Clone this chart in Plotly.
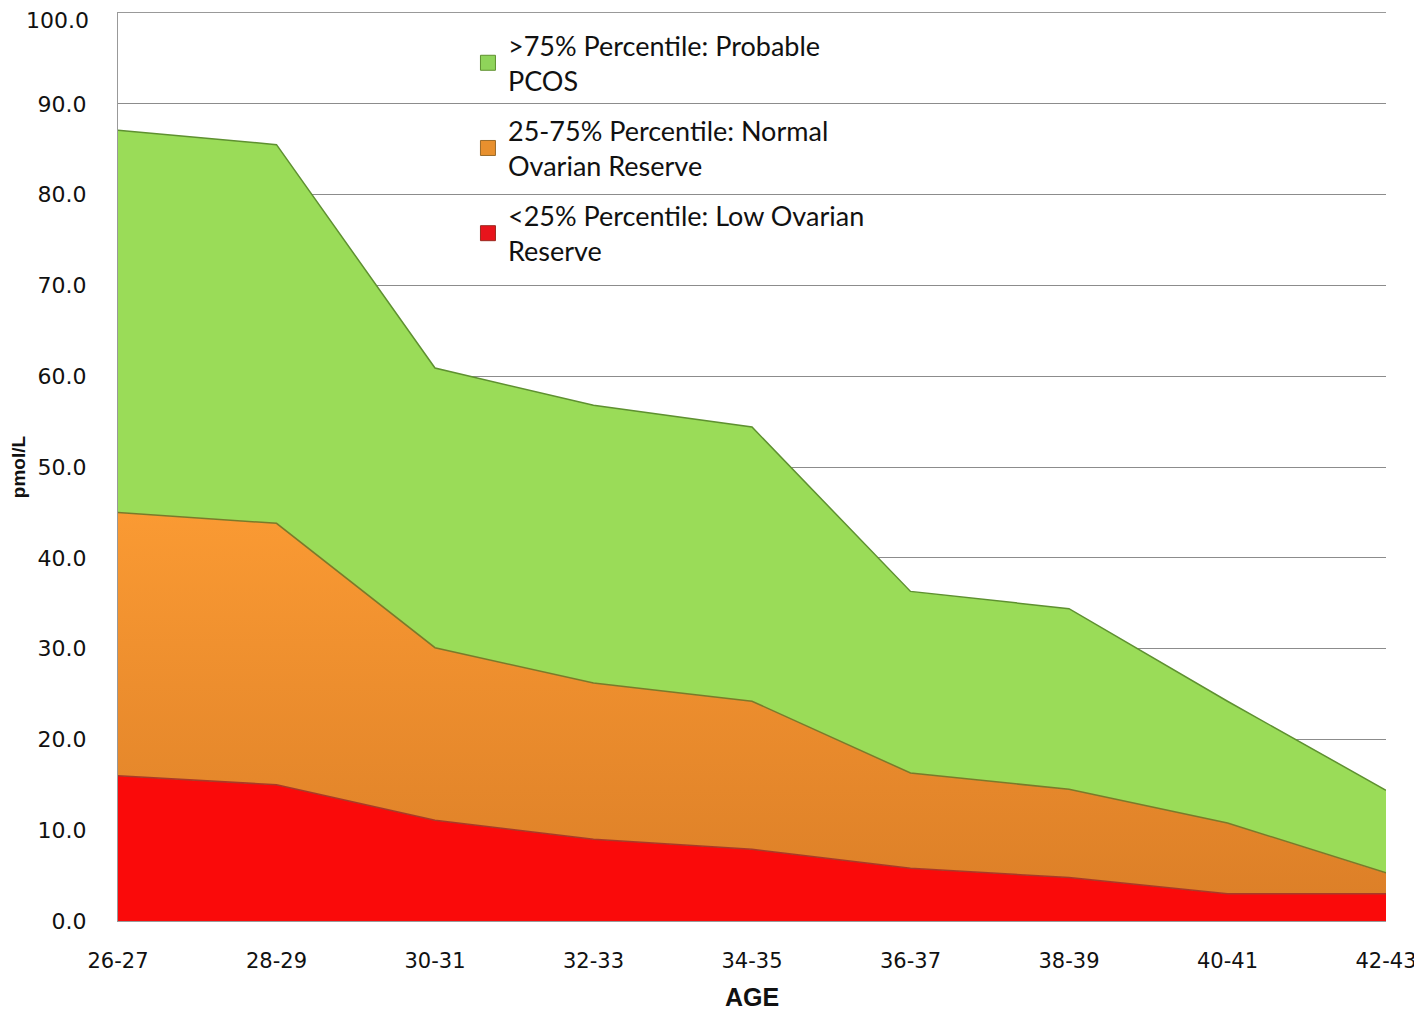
import plotly.graph_objects as go

ages = ["26-27", "28-29", "30-31", "32-33", "34-35", "36-37", "38-39", "40-41", "42-43"]
p25 = [16.0, 15.0, 11.1, 9.0, 7.9, 5.8, 4.8, 3.0, 3.0]
p75 = [45.0, 43.8, 30.1, 26.2, 24.2, 16.3, 14.5, 10.8, 5.3]
p_high = [87.1, 85.5, 60.9, 56.8, 54.4, 36.3, 34.4, 24.2, 14.4]
y_ticks = [0, 10, 20, 30, 40, 50, 60, 70, 80, 90, 100]

names = [
    "<25% Percentile: Low Ovarian<br>Reserve",
    "25-75% Percentile: Normal<br>Ovarian Reserve",
    ">75% Percentile: Probable<br>PCOS",
]
legend_colors = ["#E8141C", "#E8902E", "#8FD45A"]
legend_edges = ["#9A2A20", "#9A6A2A", "#5E9030"]

fig = go.Figure()
fig.add_trace(go.Scatter(
    x=ages, y=p25, name=names[0], mode="lines", fill="tozeroy",
    fillcolor="#FA0A0A", line=dict(color="#A83A28", width=1.5),
    showlegend=False,
))
fig.add_trace(go.Scatter(
    x=ages, y=p75, name=names[1], mode="lines", fill="tonexty",
    fillgradient=dict(type="vertical", colorscale=[[0, "#DB7E27"], [1, "#FA9A33"]], start=0, stop=45),
    line=dict(color="#7A7A2A", width=1.5),
    showlegend=False,
))
fig.add_trace(go.Scatter(
    x=ages, y=p_high, name=names[2], mode="lines", fill="tonexty",
    fillcolor="#9ADC58", line=dict(color="#5E9030", width=1.5),
    showlegend=False,
))

# legend entries with square swatches (no drawn data)
for i, rank in zip(range(3), [3, 2, 1]):
    fig.add_trace(go.Scatter(
        x=[None], y=[None], name=names[i], mode="markers",
        marker=dict(symbol="square", size=15, color=legend_colors[i],
                    line=dict(color=legend_edges[i], width=1)),
        legendgroup=str(i), legendrank=rank, showlegend=True,
    ))

tick_font = dict(family="DejaVu Sans", size=22, color="#111111")
xtick_font = dict(family="DejaVu Sans", size=21, color="#111111")

fig.update_layout(
    width=1422, height=1010,
    margin=dict(l=110, r=44, t=5, b=97),
    paper_bgcolor="white", plot_bgcolor="white",
    font=dict(family="DejaVu Sans", color="#111111"),
    showlegend=True,
    legend=dict(
        x=0.276, y=0.991, xanchor="left", yanchor="top",
        traceorder="grouped", tracegroupgap=12,
        bgcolor="rgba(0,0,0,0)",
        font=dict(family="Lato", size=27, color="#111111"),
        itemwidth=30,
    ),
    xaxis=dict(
        type="category", range=[0, 8], automargin=False,
        showgrid=False, showline=True, linecolor="#999999", linewidth=1,
        mirror=True,
        ticks="", tickfont=xtick_font, ticklabelstandoff=21,
        title=dict(text="<b>AGE</b>", font=dict(family="Liberation Sans", size=25), standoff=16),
    ),
    yaxis=dict(
        range=[0, 100], automargin=False,
        tickmode="array", tickvals=y_ticks[:-1],
        ticktext=[f"{v:.1f}" for v in y_ticks[:-1]],
        showgrid=True, gridcolor="#8C8C8C", gridwidth=1,
        showline=True, linecolor="#999999", linewidth=1,
        ticks="", tickfont=tick_font, ticklabelstandoff=26,
        title=dict(text="<b>pmol/L</b>", font=dict(family="Liberation Sans", size=19), standoff=12),
        zeroline=False,
    ),
)

# top tick label, nudged down so it stays inside the page
fig.add_annotation(
    x=0, xref="paper", y=y_ticks[-1], yref="y",
    text=f"{y_ticks[-1]:.1f}", showarrow=False,
    xanchor="right", yanchor="middle", xshift=-27, yshift=-7,
    font=tick_font,
)

fig.write_html("out.html")
